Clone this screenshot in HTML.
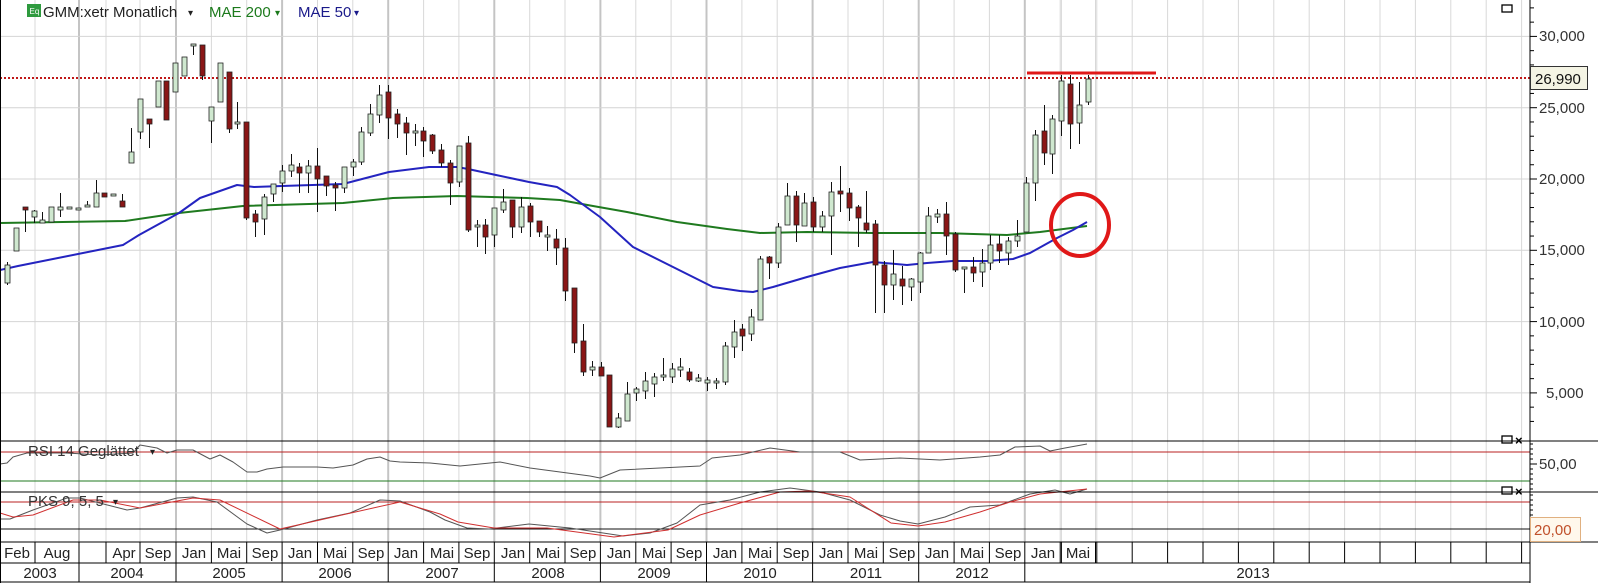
<!DOCTYPE html>
<html><head><meta charset="utf-8"><style>
html,body{margin:0;padding:0;background:#fff;}
svg{display:block;font-family:"Liberation Sans",sans-serif;}
</style></head><body>
<svg id="c" width="1598" height="583" viewBox="0 0 1598 583" xmlns="http://www.w3.org/2000/svg">
<rect x="0" y="0" width="1598" height="583" fill="#fff"/>
<g id="grid"></g>
<g id="main"></g>
<g id="ind"></g>
<g id="axes"></g>
<!-- legend -->
<rect x="27" y="4" width="14" height="13" fill="#2e9a3e"/>
<text x="29.5" y="14" font-size="8" fill="#fff">Eq</text>
<text x="43" y="17" font-size="15" fill="#222">GMM:xetr Monatlich</text>
<text x="188" y="16" font-size="10" fill="#222">▾</text>
<text x="209" y="17" font-size="15" fill="#1c7a1c">MAE 200</text>
<text x="275" y="16" font-size="10" fill="#1c7a1c">▾</text>
<text x="298" y="17" font-size="15" fill="#1a1a8a">MAE 50</text>
<text x="354" y="16" font-size="10" fill="#1a1a8a">▾</text>
<rect x="1502" y="5" width="10" height="7" fill="none" stroke="#000" stroke-width="1.3"/>
<!-- right axis labels -->
<text x="1539" y="41" font-size="15" fill="#333">30,000</text>
<text x="1539" y="113" font-size="15" fill="#333">25,000</text>
<text x="1539" y="184" font-size="15" fill="#333">20,000</text>
<text x="1539" y="255" font-size="15" fill="#333">15,000</text>
<text x="1539" y="327" font-size="15" fill="#333">10,000</text>
<text x="1546" y="398" font-size="15" fill="#333">5,000</text>
<rect x="1530.5" y="66.5" width="57" height="23" fill="#f4f4e4" stroke="#333" stroke-width="1"/>
<text x="1535" y="84" font-size="15" fill="#111">26,990</text>
<text x="1539" y="469" font-size="15" fill="#333">50,00</text>
<rect x="1530.5" y="517.5" width="50" height="24" fill="#fff8ec" stroke="#e0b080" stroke-width="1"/>
<text x="1534" y="535" font-size="15" fill="#c0502a">20,00</text>
<!-- indicator labels -->
<text x="28" y="456" font-size="15" fill="#333">RSI 14 Geglättet</text>
<text x="150" y="455" font-size="10" fill="#222">▾</text>
<text x="28" y="506" font-size="15" fill="#333">PKS 9, 5, 5</text>
<text x="113" y="505" font-size="10" fill="#222">▾</text>
<rect x="1502" y="436" width="10" height="7" fill="none" stroke="#000" stroke-width="1.3"/>
<text x="1515" y="445" font-size="13" font-weight="bold" fill="#000">×</text>
<rect x="1502" y="487" width="10" height="7" fill="none" stroke="#000" stroke-width="1.3"/>
<text x="1515" y="496" font-size="13" font-weight="bold" fill="#000">×</text>
<!-- month labels -->
<g font-size="15" fill="#222" text-anchor="middle" id="months">
<text x="17" y="558">Feb</text><text x="57" y="558">Aug</text>
<text x="124" y="558">Apr</text><text x="158" y="558">Sep</text>
<text x="194" y="558">Jan</text><text x="229" y="558">Mai</text><text x="265" y="558">Sep</text>
<text x="300" y="558">Jan</text><text x="335" y="558">Mai</text><text x="371" y="558">Sep</text>
<text x="406" y="558">Jan</text><text x="442" y="558">Mai</text><text x="477" y="558">Sep</text>
<text x="513" y="558">Jan</text><text x="548" y="558">Mai</text><text x="583" y="558">Sep</text>
<text x="619" y="558">Jan</text><text x="654" y="558">Mai</text><text x="689" y="558">Sep</text>
<text x="725" y="558">Jan</text><text x="760" y="558">Mai</text><text x="796" y="558">Sep</text>
<text x="831" y="558">Jan</text><text x="866" y="558">Mai</text><text x="902" y="558">Sep</text>
<text x="937" y="558">Jan</text><text x="972" y="558">Mai</text><text x="1008" y="558">Sep</text>
<text x="1043" y="558">Jan</text><text x="1078" y="558">Mai</text>
</g>
<g font-size="15" fill="#222" text-anchor="middle">
<text x="40" y="578">2003</text><text x="127" y="578">2004</text>
<text x="229" y="578">2005</text><text x="335" y="578">2006</text>
<text x="442" y="578">2007</text><text x="548" y="578">2008</text>
<text x="654" y="578">2009</text><text x="760" y="578">2010</text>
<text x="866" y="578">2011</text><text x="972" y="578">2012</text>
<text x="1253" y="578">2013</text>
</g>
</svg>
<script>
(function(){
var NS="http://www.w3.org/2000/svg";
function el(p,t,a){var e=document.createElementNS(NS,t);for(var k in a)e.setAttribute(k,a[k]);document.getElementById(p).appendChild(e);return e;}
function Y(v){return 107.7-(v-25000)*0.01426;}
// vertical grid
var seps=[35,79,106,140],years=[79];
for(var y=0;y<=8;y++){var b=176+106.1*y;years.push(b);seps.push(b,b+35.4,b+70.7);}
for(var k=1;k<=14;k++){var s=1026+35.4*k;if(s<1530)seps.push(s);}
seps.forEach(function(s){
 var thick=years.some(function(q){return Math.abs(q-s)<1;});
 el("grid","line",{x1:s,y1:0,x2:s,y2:542,stroke:thick?"#c4c4c4":"#d8d8d8","stroke-width":thick?2:1});
 el("axes","line",{x1:s,y1:542,x2:s,y2:563,stroke:"#000","stroke-width":1});
});
years.forEach(function(s){el("axes","line",{x1:s,y1:563,x2:s,y2:582,stroke:"#000","stroke-width":1});});
// horizontal grid main
[30000,25000,20000,15000,10000,5000].forEach(function(v){el("grid","line",{x1:0,y1:Y(v),x2:1530,y2:Y(v),stroke:"#d4d4d4","stroke-width":1});});
// dotted red line
el("main","line",{x1:0,y1:78,x2:1530,y2:78,stroke:"#c01818","stroke-width":2,"stroke-dasharray":"2,2"});
// MAs
function pl(g,pts,c,w){el(g,"polyline",{points:pts.map(function(p){return p.join(",")}).join(" "),fill:"none",stroke:c,"stroke-width":w,"stroke-linejoin":"round"});}
pl("main",[[0,223],[125,221],[179,213],[243,206],[343,203],[393,198],[457,196],[527,198],[560,200],[593,206],[627,212],[677,222],[727,229],[760,233],[807,232],[873,233],[940,233],[1007,235],[1040,232],[1087,226]],"#1f7a1f",2);
pl("main",[[0,270],[18,266],[123,245],[139,235],[179,213],[200,198],[237,185],[254,187],[282,186],[343,184],[389,172],[429,167],[457,167],[468,169],[496,175],[529,182],[557,187],[570,195],[600,217],[633,247],[673,267],[713,287],[740,291],[753,292],[773,287],[807,277],[840,268],[873,262],[907,265],[927,263],[953,261],[987,261],[1013,259],[1030,253],[1057,238],[1073,230],[1087,222]],"#2424c0",2);
// candles
var d="g 265 283 262 285|g 228 251 228 251|r 207 210 207 232|g 211 217 210 223|g 220 223 212 223|g 207 222 207 222|g 207 210 193 217|g 207 209 207 209|g 208 210 208 210|g 205 207 201 207|g 193 207 180 207|r 193 197 193 197|g 194 196 194 196|r 201 207 194 207|g 152 163 128 163|g 99 132 99 139|r 119 124 119 148|g 81 107 81 107|r 81 120 81 120|g 63 92 63 92|g 57 76 57 76|g 44 46 44 55|r 45 76 45 80|g 107 121 107 143|g 63 102 63 102|r 72 129 72 133|g 122 124 102 129|r 122 218 122 220|r 214 222 210 237|g 197 219 194 235|g 184 194 184 202|g 171 183 165 192|g 165 171 154 177|r 167 173 163 193|g 166 173 160 193|r 166 179 148 212|r 176 186 176 196|r 185 188 182 211|g 167 188 167 193|g 162 167 159 176|g 132 162 127 165|g 114 133 104 136|g 95 115 85 123|r 92 118 85 139|r 114 124 109 138|r 123 133 117 155|g 131 133 124 146|r 131 141 127 157|r 135 151 134 154|r 150 163 144 167|r 163 183 160 205|g 146 182 146 187|r 143 230 136 232|g 225 227 220 247|r 225 237 219 254|g 208 235 208 247|g 202 210 189 213|r 200 227 200 238|g 207 227 197 233|r 206 222 203 237|r 221 232 221 237|g 235 237 226 251|r 239 248 229 265|r 248 291 238 301|r 288 343 288 353|r 341 372 324 376|g 367 370 361 376|r 367 376 362 376|r 375 427 375 427|g 418 427 413 428|g 394 421 382 421|g 389 393 387 401|g 381 391 372 399|g 377 384 373 397|g 375 377 358 381|g 369 377 363 383|g 367 370 358 377|r 372 380 368 382|g 378 381 374 382|g 380 383 377 391|g 381 383 378 389|g 346 382 342 385|g 332 347 320 358|r 329 336 324 351|g 317 334 309 341|g 259 320 256 320|r 257 263 256 279|g 227 263 223 268|g 196 225 183 225|r 196 225 191 242|g 203 226 193 226|r 202 227 197 232|g 216 227 211 232|g 192 216 182 255|r 191 194 166 212|r 193 208 188 221|r 207 218 205 247|r 223 230 191 233|r 224 265 220 313|r 265 285 261 313|g 274 285 250 300|r 279 286 266 305|g 279 287 278 301|g 253 282 252 293|g 216 253 207 253|g 214 217 209 223|r 214 236 202 255|r 234 270 232 272|g 267 269 267 293|r 267 273 257 282|g 263 272 249 287|g 245 263 235 270|r 244 251 235 263|g 241 253 237 265|g 236 241 220 247|g 183 232 177 232|g 135 183 130 201|r 131 153 105 165|g 119 154 115 174|g 81 121 75 136|r 84 124 75 149|g 105 123 82 144|g 79 102 75 105".split("|");
d.forEach(function(s,i){var p=s.split(" "),x=Math.round(7+8.86*i)+0.5,bt=+p[1],bb=+p[2],wt=+p[3],wb=+p[4];
 if(bb-bt<2)bb=bt+2;
 el("main","line",{x1:x,y1:wt,x2:x,y2:wb,stroke:"#111","stroke-width":1});
 el("main","rect",{x:x-2.5,y:bt,width:5,height:bb-bt,fill:p[0]=="g"?"#cfe8cf":"#8a1616",stroke:"#222","stroke-width":0.8});
});
// red annotations
el("main","line",{x1:1027,y1:73,x2:1156,y2:73,stroke:"#e01818","stroke-width":3});
el("main","ellipse",{cx:1080,cy:225,rx:29,ry:31,fill:"none",stroke:"#e01818","stroke-width":4});
// indicator panels
el("ind","line",{x1:0,y1:452,x2:1530,y2:452,stroke:"#b82020","stroke-width":1});
el("ind","line",{x1:0,y1:481,x2:1530,y2:481,stroke:"#1f7a1f","stroke-width":1});
el("ind","line",{x1:0,y1:502,x2:1530,y2:502,stroke:"#b82020","stroke-width":1});
el("ind","line",{x1:0,y1:529,x2:1530,y2:529,stroke:"#111","stroke-width":1});
pl("ind",[[0,464],[7,463],[13,457],[27,453],[67,453],[100,455],[133,453],[140,445],[157,448],[167,453],[177,450],[193,450],[210,459],[220,455],[233,462],[247,472],[257,472],[267,469],[283,467],[317,467],[333,468],[353,465],[367,459],[380,457],[390,461],[400,462],[430,463],[460,466],[500,462],[530,468],[560,472],[590,476],[600,478],[620,470],[660,468],[700,466],[712,458],[740,455],[770,448],[800,452],[840,452],[860,460],[900,458],[940,460],[980,457],[1000,455],[1015,447],[1040,446],[1050,451],[1065,448],[1087,444]],"#555",1);
pl("ind",[[0,519],[10,519],[33,510],[67,498],[80,498],[127,510],[140,508],[177,498],[193,497],[217,502],[247,524],[267,533],[280,530],[317,520],[350,513],[380,500],[400,501],[430,512],[445,520],[467,528],[489,529],[529,524],[570,528],[623,536],[650,533],[677,523],[700,505],[730,500],[760,492],[790,488],[820,492],[850,500],[880,515],[900,521],[918,524],[945,517],[970,507],[1000,505],[1030,494],[1055,490],[1070,494],[1087,489]],"#555",1);
pl("ind",[[0,513],[13,517],[33,515],[73,500],[100,500],[140,508],[193,498],[220,500],[280,529],[333,517],[400,502],[440,514],[458,522],[494,528],[547,528],[614,537],[668,530],[700,515],[740,503],[780,492],[810,491],[850,497],[891,523],[918,526],[945,522],[980,512],[1010,502],[1040,494],[1087,489]],"#d03030",1);
// axes lines
[[0,441,1598,441],[0,492,1598,492],[0,542,1598,542],[0,563,1530,563],[0,582,1530,582],[1530,0,1530,583],[0.5,0,0.5,583]].forEach(function(a){el("axes","line",{x1:a[0],y1:a[1],x2:a[2],y2:a[3],stroke:"#000","stroke-width":1});});
for(var v=3000;v<=32000;v+=1000){var yy=Y(v);var m=v%5000==0;el("axes","line",{x1:1530,y1:yy,x2:m?1537:1534,y2:yy,stroke:"#000","stroke-width":1});}
for(var q=444;q<490;q+=5)el("axes","line",{x1:1530,y1:q,x2:q==464?1537:1533,y2:q,stroke:"#000","stroke-width":1});
for(var q=495;q<540;q+=5)el("axes","line",{x1:1530,y1:q,x2:1533,y2:q,stroke:"#000","stroke-width":1});
})();
</script>
</body></html>
